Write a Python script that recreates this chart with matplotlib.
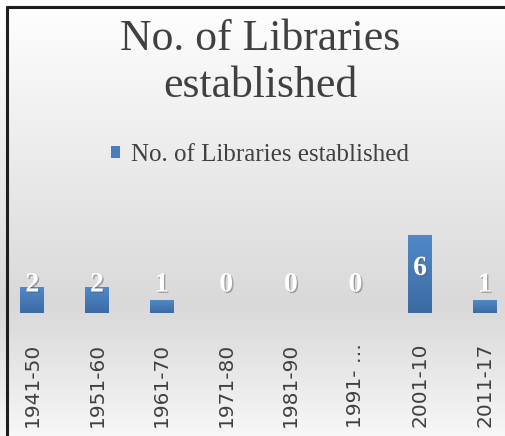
import numpy as np
import matplotlib
matplotlib.use('Agg')
import matplotlib.pyplot as plt
import matplotlib.patheffects as pe
from matplotlib.colors import LinearSegmentedColormap

periods = ['1941-50', '1951-60', '1961-70', '1971-80', '1981-90',
           '1991- …', '2001-10', '2011-17']
libraries = [2, 2, 1, 0, 0, 0, 6, 1]
series_name = 'No. of Libraries established'

W, H = 505, 436
fig = plt.figure(figsize=(W/100, H/100), dpi=100)

# chart area background: white at top, grey behind the bars, lighter below
bg = fig.add_axes([0, 0, 1, 1], zorder=0)
stops = [(0.0, '#ffffff'), (0.35, '#ececec'), (0.70, '#d9d9d9'),
         (0.76, '#dedede'), (1.0, '#f7f7f7')]
bg_cmap = LinearSegmentedColormap.from_list('bg', stops)
bg.imshow(np.linspace(0, 1, 256).reshape(-1, 1), cmap=bg_cmap,
          aspect='auto', extent=[0, 1, 0, 1], origin='upper')
bg.set_xlim(0, 1)
bg.set_ylim(0, 1)
bg.axis('off')

# frame lines on the left and top
bg.plot([7/W, 7/W], [0, 1 - 6/H], color='#1e1e1e', lw=2.2,
        solid_capstyle='butt')
bg.plot([6/W, 1], [1 - 7/H, 1 - 7/H], color='#1e1e1e', lw=2.2,
        solid_capstyle='butt')

# plot area
ax = fig.add_axes([0.0, (H - 313)/H, 517/W, 7*12.9/H], zorder=1)
ax.patch.set_alpha(0)
x = np.arange(len(periods))
bars = ax.bar(x, libraries, width=0.37, color='#4a7ebb', label=series_name)
ax.set_xlim(-0.5, len(periods) - 0.5)
ax.set_ylim(0, 7)

# vertical shading on every bar
bar_cmap = LinearSegmentedColormap.from_list('bar', ['#5089c9', '#3c6aa3'])
grad = np.linspace(0, 1, 64).reshape(-1, 1)
for b in bars:
    if b.get_height() <= 0:
        continue
    x0, w, h = b.get_x(), b.get_width(), b.get_height()
    ax.imshow(grad, cmap=bar_cmap, aspect='auto', origin='upper',
              extent=[x0, x0 + w, 0, h], zorder=2)
ax.set_xlim(-0.5, len(periods) - 0.5)
ax.set_ylim(0, 7)

# value labels
shadow = [pe.SimplePatchShadow(offset=(1, -1), shadow_rgbFace='#555555',
                               alpha=0.45), pe.Normal()]
for xi, v in zip(x, libraries):
    ypos = max(0.5*v + 0.45, 2.17)
    ax.text(xi, ypos, str(v), ha='center', va='center', color='white',
            fontsize=20, fontweight='bold', family='Liberation Serif',
            zorder=3, path_effects=shadow)

ax.set_xticks(x)
ax.set_xticklabels(periods, rotation=90, fontsize=14.5,
                   family='DejaVu Sans', color='#404040')
ax.tick_params(axis='x', length=0, pad=21.5)
ax.set_yticks([])
for s in ax.spines.values():
    s.set_visible(False)

# title in two lines
cx = 260/W
fig.text(cx, 1 - 50/H, 'No. of Libraries', ha='center', va='baseline',
         fontsize=31.5, family='Liberation Serif', color='#404040')
fig.text(cx, 1 - 97/H, 'established', ha='center', va='baseline',
         fontsize=31.5, family='Liberation Serif', color='#404040')

leg = fig.legend(handles=[bars], labels=[series_name], loc='center',
                 bbox_to_anchor=(cx, 1 - 155/H), frameon=False,
                 prop={'family': 'Liberation Serif', 'size': 18},
                 handlelength=0.36, handleheight=0.4, handletextpad=0.45,
                 borderpad=0, borderaxespad=0)
for t in leg.get_texts():
    t.set_color('#404040')

fig.savefig('out.png', dpi=100)
